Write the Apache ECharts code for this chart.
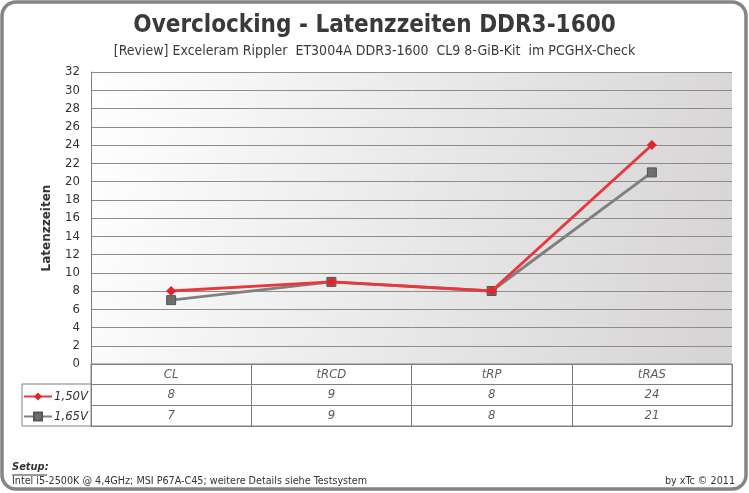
<!DOCTYPE html>
<html>
<head>
<meta charset="utf-8">
<script src="https://cdn.jsdelivr.net/npm/echarts@6/dist/echarts.min.js"></script>
<style>
  html, body { margin: 0; padding: 0; background: #fff; }
  #chart { width: 749px; height: 493px; }
</style>
</head>
<body>
<div id="chart"></div>
<script>
(function () {
  "use strict";

  // data
  const categories = ["CL", "tRCD", "tRP", "tRAS"];
  const seriesNames = ["1,50V", "1,65V"];
  const v150 = [8, 9, 8, 24];
  const v165 = [7, 9, 8, 21];
  const tableRows = ["head", "1,50V", "1,65V"];

  const COLORS = {
    text: "#333333", grid: "#8c8c8c", border: "#808080",
    red: "#e8383d", redMark: "#e0262b", grey: "#808080", greyMark: "#6e6e6e",
  };
  const FONT = "DejaVu Sans Condensed";

  // table cells: header names + values, placed through the table grid's scales
  const cells = [];
  categories.forEach((c, i) => cells.push([i, 0, c]));
  v150.forEach((v, i) => cells.push([i, 1, v]));
  v165.forEach((v, i) => cells.push([i, 2, v]));

  const chart = echarts.init(document.getElementById("chart"));
  chart.setOption({
    backgroundColor: "#fff",
    animation: false,
    textStyle: { fontFamily: FONT },
    title: {
      text: "Overclocking - Latenzzeiten DDR3-1600",
      subtext: "[Review] Exceleram Rippler  ET3004A DDR3-1600  CL9 8-GiB-Kit  im PCGHX-Check",
      left: "center", top: 9, itemGap: 6,
      textStyle: { fontFamily: FONT, fontSize: 24, fontWeight: "bold", color: "#3a3a3a" },
      subtextStyle: { fontFamily: FONT, fontSize: 14, color: "#3a3a3a" },
    },
    legend: {
      orient: "vertical", left: 18, top: 385, itemGap: 7,
      itemWidth: 28, itemHeight: 10,
      data: seriesNames,
      textStyle: { fontFamily: FONT, fontSize: 13, fontStyle: "italic", color: COLORS.text, padding: [0, 0, 0, -3] },
    },
    grid: [
      {
        left: 91, right: 17, top: 72, height: 292, show: true, borderWidth: 0,
        backgroundColor: {
          type: "linear", x: 0, y: 0, x2: 1, y2: 0.5,
          colorStops: [{ offset: 0, color: "#ffffff" }, { offset: 1, color: "#d7d5d5" }],
        },
      },
      { left: 91, right: 17, top: 364, height: 62, show: true, backgroundColor: "#fff", borderColor: COLORS.border, borderWidth: 1 },
      { left: 22, width: 69, top: 384, height: 42, show: true, backgroundColor: "#fff", borderColor: COLORS.border, borderWidth: 1 },
    ],
    xAxis: [
      {
        gridIndex: 0, type: "category", data: categories,
        axisLine: { show: true, lineStyle: { color: COLORS.border } },
        axisTick: { show: false }, axisLabel: { show: false },
      },
      {
        gridIndex: 1, type: "category", data: categories,
        axisLine: { show: false }, axisTick: { show: false }, axisLabel: { show: false },
        splitLine: { show: true, lineStyle: { color: COLORS.border } },
      },
      { gridIndex: 2, type: "value", show: false },
    ],
    yAxis: [
      {
        gridIndex: 0, type: "value", min: 0, max: 32, interval: 2,
        name: "Latenzzeiten", nameLocation: "middle", nameGap: 38,
        nameTextStyle: { fontFamily: "DejaVu Sans", fontSize: 12, fontWeight: "bold", color: COLORS.text, padding: [0, 0, 0, -20] },
        axisLine: { show: true, lineStyle: { color: COLORS.border } },
        axisTick: { show: false },
        axisLabel: { fontFamily: FONT, fontSize: 13, color: COLORS.text, margin: 11 },
        splitLine: { lineStyle: { color: COLORS.grid } },
      },
      {
        gridIndex: 1, type: "category", data: tableRows, inverse: true,
        axisLine: { show: false }, axisTick: { show: false }, axisLabel: { show: false },
        splitLine: { show: true, lineStyle: { color: COLORS.border } },
      },
      { gridIndex: 2, type: "value", show: false },
    ],
    series: [
      {
        name: seriesNames[0], type: "line", data: v150, xAxisIndex: 0, yAxisIndex: 0,
        symbol: "diamond", symbolSize: 10, z: 3,
        lineStyle: { color: COLORS.red, width: 3 },
        itemStyle: { color: COLORS.redMark },
      },
      {
        name: seriesNames[1], type: "line", data: v165, xAxisIndex: 0, yAxisIndex: 0,
        symbol: "rect", symbolSize: 9, z: 2,
        lineStyle: { color: COLORS.grey, width: 3 },
        itemStyle: { color: COLORS.greyMark, borderColor: "#555", borderWidth: 1 },
      },
      {
        type: "scatter", xAxisIndex: 1, yAxisIndex: 1, data: cells,
        symbolSize: 0, silent: true,
        label: {
          show: true, position: "inside", formatter: (p) => p.value[2],
          fontFamily: FONT, fontSize: 13, fontStyle: "italic", color: COLORS.text,
        },
      },
    ],
    graphic: [
      {
        type: "rect", shape: { x: 2, y: 2, width: 744, height: 487, r: 14 },
        style: { fill: null, stroke: "#858585", lineWidth: 3.5 }, z: 10, silent: true,
      },
      {
        type: "text", left: 12, top: 462,
        style: { text: "Setup:", font: "italic bold 11px " + FONT, fill: "#333" },
      },
      {
        type: "line", shape: { x1: 12, y1: 475, x2: 47, y2: 475 },
        style: { stroke: "#333", lineWidth: 1 },
      },
      {
        type: "text", left: 12, top: 476,
        style: { text: "Intel i5-2500K @ 4,4GHz; MSI P67A-C45; weitere Details siehe Testsystem", font: "10.7px " + FONT, fill: "#333" },
      },
      {
        type: "text", right: 14, top: 476,
        style: { text: "by xTc \u00a9 2011", font: "10.7px " + FONT, fill: "#333" },
      },
    ],
  });
})();
</script>
</body>
</html>
